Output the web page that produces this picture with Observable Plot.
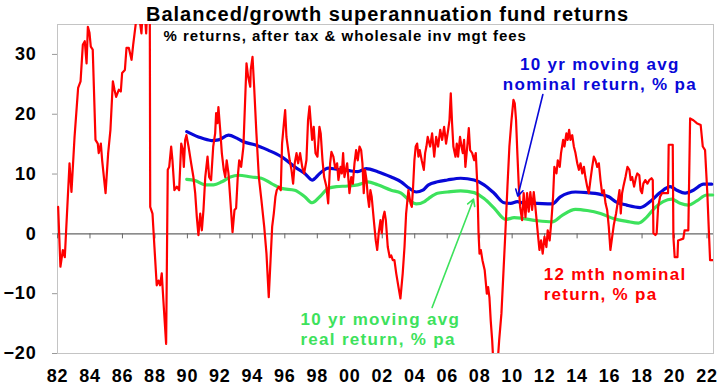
<!DOCTYPE html>
<html>
<head>
<meta charset="utf-8">
<script src="https://cdn.jsdelivr.net/npm/d3@7"></script>
<script src="https://cdn.jsdelivr.net/npm/@observablehq/plot@0.6"></script>
<style>
  html, body { margin: 0; padding: 0; background: #fff; }
  #chart { width: 720px; height: 391px; }
</style>
</head>
<body>
<div id="chart"></div>
<script>
// ---- Data (decimal year, % return) ----
const nominal12m = [
  [1982.04,4.5],[1982.18,-5.5],[1982.33,-2.7],[1982.45,-3.9],[1982.74,11.8],[1982.86,7.0],
  [1983.05,16.2],[1983.27,24.4],[1983.42,25.5],[1983.56,31.6],[1983.68,32.2],[1983.79,28.5],
  [1983.87,34.6],[1983.97,33.6],[1984.05,31.3],[1984.17,30.8],[1984.34,15.7],[1984.48,15.1],
  [1984.54,13.5],[1984.67,15.1],[1984.75,12.3],[1984.96,6.8],[1985.12,13.5],[1985.26,17.4],
  [1985.41,25.5],[1985.51,24.1],[1985.61,22.9],[1985.78,24.1],[1985.90,23.8],[1985.98,26.9],
  [1986.15,27.4],[1986.25,31.1],[1986.39,31.1],[1986.56,29.1],[1986.66,31.6],[1986.80,34.7],
  [1986.95,38],[1987.17,33.5],[1987.30,40],[1987.46,33.5],[1987.60,42],[1987.68,42],
  [1987.71,4.5],[1987.85,3.4],[1987.97,-2.2],[1988.11,-8.6],[1988.22,-7.8],[1988.32,-8.6],
  [1988.42,-6.6],[1988.52,-11.1],[1988.69,-18.4],[1988.79,10.7],[1988.88,11.2],[1989.00,14.6],
  [1989.08,12.3],[1989.20,7.3],[1989.35,7.9],[1989.49,7.3],[1989.62,15.1],[1989.72,14.0],
  [1989.78,11.2],[1989.86,15.7],[1989.94,16.5],[1990.07,14.6],[1990.23,11.8],[1990.37,9.5],
  [1990.48,6.8],[1990.58,2.8],[1990.68,-0.2],[1990.79,3.4],[1990.89,0.6],[1990.99,4.0],
  [1991.10,9.5],[1991.24,12.9],[1991.34,9.5],[1991.46,9.0],[1991.59,14.6],[1991.71,16.8],
  [1991.77,20.2],[1991.85,18.5],[1991.91,21.2],[1992.02,17.4],[1992.12,13.5],[1992.24,10.7],
  [1992.33,9.5],[1992.42,12.3],[1992.53,10.1],[1992.63,6.2],[1992.78,0.3],[1992.90,4.0],
  [1993.00,4.3],[1993.10,9.5],[1993.19,12.3],[1993.31,11.2],[1993.45,14.6],[1993.64,28.5],
  [1993.74,26.3],[1993.87,24.6],[1993.90,27.4],[1994.01,29.6],[1994.11,24.6],[1994.25,16.8],
  [1994.40,9.5],[1994.56,5.6],[1994.73,1.2],[1994.87,-3.3],[1995.01,-10.6],[1995.12,-4.4],
  [1995.22,1.2],[1995.32,3.4],[1995.42,6.2],[1995.50,7.3],[1995.63,7.9],[1995.75,7.3],
  [1995.83,15.1],[1995.96,19.0],[1996.02,20.7],[1996.10,16.2],[1996.21,14.0],[1996.30,12.3],
  [1996.41,10.7],[1996.51,8.4],[1996.61,11.8],[1996.72,13.5],[1996.82,11.8],[1996.94,13.5],
  [1997.07,11.2],[1997.19,10.1],[1997.33,12.3],[1997.43,19.0],[1997.52,21.3],[1997.60,18.5],
  [1997.68,15.7],[1997.78,17.9],[1997.89,13.5],[1998.01,12.9],[1998.13,17.9],[1998.21,16.8],
  [1998.32,12.3],[1998.42,9.5],[1998.56,7.9],[1998.67,5.1],[1998.79,11.8],[1998.87,13.7],
  [1998.99,12.9],[1999.10,11.0],[1999.22,11.8],[1999.30,9.0],[1999.43,11.2],[1999.51,10.1],
  [1999.59,13.5],[1999.67,9.5],[1999.84,11.8],[1999.98,6.8],[2000.09,9.5],[2000.19,8.4],
  [2000.29,11.8],[2000.39,14.0],[2000.49,12.3],[2000.60,14.6],[2000.70,14.0],[2000.78,11.8],
  [2000.86,6.8],[2000.94,10.7],[2001.03,9.0],[2001.11,6.2],[2001.19,4.5],[2001.27,7.3],
  [2001.35,6.2],[2001.48,2.3],[2001.60,-1.1],[2001.69,-2.7],[2001.78,0.1],[2001.89,2.3],
  [2001.97,0.1],[2002.06,2.8],[2002.14,3.7],[2002.22,2.3],[2002.34,-2.2],[2002.46,-3.9],
  [2002.55,-3.6],[2002.65,-4.4],[2002.75,-4.4],[2002.86,-6.6],[2003.00,-8.9],[2003.12,-10.8],
  [2003.26,-6.6],[2003.37,-2.2],[2003.47,3.4],[2003.61,7.3],[2003.74,5.1],[2003.82,4.5],
  [2003.90,7.9],[2003.98,12.3],[2004.06,14.6],[2004.15,15.1],[2004.23,12.9],[2004.31,14.0],
  [2004.43,12.3],[2004.56,10.7],[2004.64,13.5],[2004.72,14.6],[2004.80,16.2],[2004.95,14.6],
  [2005.07,16.8],[2005.20,12.9],[2005.32,16.2],[2005.44,14.6],[2005.57,17.4],[2005.69,15.7],
  [2005.81,17.9],[2005.93,15.1],[2006.06,17.4],[2006.14,19.0],[2006.22,23.5],[2006.30,18.5],
  [2006.38,14.6],[2006.51,12.9],[2006.59,15.1],[2006.67,12.9],[2006.79,16.2],[2006.88,14.6],
  [2006.96,13.5],[2007.04,15.7],[2007.12,11.2],[2007.25,15.1],[2007.33,17.7],[2007.41,14.0],
  [2007.54,13.5],[2007.66,12.3],[2007.76,13.5],[2007.86,7.9],[2007.93,0.1],[2007.99,-3.3],
  [2008.07,-2.7],[2008.17,-4.4],[2008.31,-6.1],[2008.44,-10.0],[2008.52,-8.9],[2008.60,-10.6],
  [2008.68,-14.5],[2008.77,-17.8],[2008.85,-22],[2009.00,-23],[2009.12,-21],[2009.20,-17.8],
  [2009.34,-13.3],[2009.46,-6.6],[2009.58,0.1],[2009.71,7.9],[2009.83,14.6],[2009.96,19.0],
  [2010.08,22.4],[2010.16,21.8],[2010.24,19.0],[2010.32,13.5],[2010.41,7.9],[2010.49,4.5],
  [2010.61,2.3],[2010.71,6.8],[2010.82,2.8],[2010.92,6.8],[2011.02,3.7],[2011.12,7.0],
  [2011.23,4.0],[2011.33,7.0],[2011.43,4.5],[2011.58,0.1],[2011.68,-2.7],[2011.78,-1.1],
  [2011.88,-3.3],[2011.99,-0.5],[2012.11,-2.2],[2012.19,0.6],[2012.31,-1.1],[2012.42,2.3],
  [2012.52,6.2],[2012.60,11.2],[2012.73,10.1],[2012.81,12.3],[2012.93,11.2],[2013.01,13.5],
  [2013.14,15.7],[2013.22,14.6],[2013.34,16.8],[2013.42,15.7],[2013.51,17.4],[2013.59,15.7],
  [2013.70,16.5],[2013.80,14.6],[2013.90,13.5],[2014.01,11.8],[2014.11,10.7],[2014.21,11.8],
  [2014.32,10.1],[2014.42,11.2],[2014.51,9.5],[2014.62,7.9],[2014.72,6.8],[2014.82,9.0],
  [2014.93,11.2],[2015.03,12.9],[2015.13,12.3],[2015.24,11.2],[2015.34,11.8],[2015.44,9.0],
  [2015.54,6.8],[2015.65,7.3],[2015.75,5.1],[2015.85,4.0],[2015.95,1.2],[2016.05,-2.7],
  [2016.16,-0.5],[2016.26,1.5],[2016.40,3.4],[2016.52,5.6],[2016.61,7.3],[2016.69,3.4],
  [2016.77,6.8],[2016.85,7.9],[2016.98,9.5],[2017.10,11.2],[2017.22,10.7],[2017.30,9.0],
  [2017.39,9.5],[2017.51,7.9],[2017.63,9.5],[2017.71,10.1],[2017.83,9.8],[2017.91,7.3],
  [2018.00,6.8],[2018.08,8.4],[2018.20,9.0],[2018.33,8.4],[2018.45,9.0],[2018.58,9.3],
  [2018.66,9.0],[2018.70,0.1],[2018.82,-0.2],[2018.90,0.1],[2018.99,4.5],[2019.11,6.2],
  [2019.23,6.8],[2019.60,6.8],[2019.64,14.9],[2019.89,14.9],[2019.93,-0.5],[2020.01,-3.9],
  [2020.18,-3.9],[2020.22,-1.1],[2020.54,-0.8],[2020.62,0.6],[2020.85,0.6],[2020.96,19.3],
  [2021.16,19.0],[2021.37,18.5],[2021.61,18.2],[2021.74,14.6],[2021.88,14.0],[2022.02,6.8],
  [2022.12,0.1],[2022.19,-4.4],[2022.39,-4.4]
];

const avgNominal10y = [
  [1989.96,17.1],[1990.68,16.2],[1991.5,15.6],[1991.91,15.7],[1992.53,16.5],[1993.04,16.0],
  [1993.45,15.4],[1994.15,14.9],[1994.97,14.0],[1995.79,12.9],[1996.61,11.2],[1997.23,10.1],
  [1997.68,9.0],[1998.15,10.1],[1998.67,11.0],[1999.18,10.8],[1999.88,10.6],[2000.49,10.4],
  [2001.01,10.9],[2001.72,10.4],[2002.55,9.5],[2003.16,8.7],[2003.67,7.6],[2004.09,7.0],
  [2004.5,7.3],[2004.85,8.2],[2005.4,8.7],[2006.01,9.0],[2006.83,9.3],[2007.66,9.0],
  [2008.27,8.2],[2008.89,6.8],[2009.51,5.2],[2009.91,5.1],[2010.32,5.4],[2010.63,5.2],
  [2011.54,5.1],[2012.46,5.0],[2012.97,6.2],[2013.9,7.0],[2014.62,6.9],[2015.44,6.6],
  [2015.95,6.2],[2016.36,5.4],[2017.06,4.8],[2017.88,4.4],[2018.5,5.4],[2019.11,6.9],
  [2019.73,7.9],[2020.14,7.3],[2020.65,6.8],[2021.16,7.3],[2021.78,8.3],[2022.29,8.3]
];

const avgReal10y = [
  [1989.96,9.1],[1990.48,8.9],[1991.1,8.2],[1991.61,8.2],[1992.12,8.7],[1992.64,9.5],
  [1993.15,9.8],[1993.95,9.5],[1994.56,9.3],[1995.18,8.4],[1995.79,7.6],[1996.61,7.3],
  [1997.23,6.2],[1997.68,5.2],[1998.15,6.2],[1998.67,7.6],[1999.18,7.9],[1999.88,8.0],
  [2000.49,8.2],[2001.11,8.7],[2001.72,8.2],[2002.55,7.3],[2003.16,6.8],[2003.67,5.6],
  [2004.09,5.0],[2004.6,5.4],[2004.85,5.9],[2005.4,6.8],[2006.01,7.0],[2006.83,7.2],
  [2007.66,6.9],[2008.27,5.9],[2008.89,4.3],[2009.6,2.4],[2010.12,2.7],[2010.6,2.6],
  [2011.54,2.2],[2012.46,2.0],[2013.08,3.1],[2013.9,4.1],[2014.62,3.9],[2015.44,3.4],
  [2016.3,2.5],[2017.06,2.1],[2017.78,1.8],[2018.29,2.8],[2018.8,4.4],[2019.3,5.4],
  [2019.83,5.8],[2020.34,5.1],[2020.85,4.8],[2021.37,5.5],[2021.98,6.5],[2022.35,6.5]
];

const xTicks  = [1982,1984,1986,1988,1990,1992,1994,1996,1998,2000,2002,2004,2006,2008,2010,2012,2014,2016,2018,2020,2022];
const xLabels = ["82","84","86","88","90","92","94","96","98","00","02","04","06","08","10","12","14","16","18","20","22"];
const yTicks  = [-20,-10,0,10,20,30];

const titleText    = ["Balanced/growth superannuation fund returns"];
const subtitleText = ["% returns, after tax & wholesale inv mgt fees"];
const blueLabel  = [{x: 2015.4,  y: 24.1,  text: "10 yr moving avg\nnominal return, % pa"}];
const redLabel   = [{x: 2011.94, y: -11.0, text: "12 mth nominal\nreturn, % pa"}];
const greenLabel = [{x: 1996.96, y: -18.6, text: "10 yr moving avg\nreal return, % pa"}];
const blueArrow  = [{x1: 2011.89, y1: 23.3, x2: 2010.35, y2: 6.3}];
const greenArrow = [{x1: 2005.07, y1: -12.3, x2: 2007.62, y2: 5.8}];

const RED = "#ff0000", BLUE = "#0808d8", GREEN = "#3de25c";
const FONT = "'Liberation Sans', Arial, sans-serif";

const svg = Plot.plot({
  width: 720,
  height: 391,
  marginLeft: 57,
  marginRight: 7,
  marginTop: 24,
  marginBottom: 38,
  style: {fontFamily: FONT, background: "#fff", color: "#000", overflow: "visible"},
  x: {domain: [1982, 2022.4]},
  y: {domain: [-20, 35]},
  marks: [
    Plot.frame({stroke: "#c4c4c4"}),
    Plot.axisY({ticks: yTicks, tickSize: 5, fill: "none", stroke: "#999", label: null}),
    Plot.axisY({ticks: yTicks, tickSize: 0, tickPadding: 21, fontSize: 18, fontWeight: "bold", label: null}),
    Plot.axisX({ticks: xTicks, tickSize: 0, tickPadding: 16, fontSize: 18, fontWeight: "bold", label: null,
                tickFormat: d => xLabels[xTicks.indexOf(d)]}),
    Plot.ruleY([0], {stroke: "#666", strokeWidth: 1.2}),
    Plot.ruleX(xTicks, {x: d => d, y1: 0, y2: 0, insetBottom: -5, stroke: "#666"}),
    Plot.line(avgNominal10y, {x: d => d[0], y: d => d[1], stroke: BLUE, strokeWidth: 3.2, curve: "monotone-x"}),
    Plot.line(avgReal10y, {x: d => d[0], y: d => d[1], stroke: GREEN, strokeWidth: 3.2, curve: "monotone-x"}),
    Plot.line(nominal12m, {x: d => d[0], y: d => d[1], stroke: RED, strokeWidth: 2.2, clip: true}),
    Plot.arrow(blueArrow, {x1: "x1", y1: "y1", x2: "x2", y2: "y2", stroke: BLUE, strokeWidth: 1.6, headLength: 7}),
    Plot.arrow(greenArrow, {x1: "x1", y1: "y1", x2: "x2", y2: "y2", stroke: GREEN, strokeWidth: 1.6, headLength: 7}),
    Plot.text(titleText, {frameAnchor: "top", lineAnchor: "bottom", dy: -4, dx: 2, fontSize: 20, fontWeight: "bold", fill: "#000"}),
    Plot.text(subtitleText, {frameAnchor: "top-left", textAnchor: "start", lineAnchor: "bottom", dx: 106, dy: 16.7, fontSize: 15, fontWeight: "bold", fill: "#000"}),
    Plot.text(blueLabel, {x: "x", y: "y", text: "text", textAnchor: "middle", lineAnchor: "bottom", lineHeight: 1.18, fontSize: 17, fontWeight: "bold", fill: BLUE}),
    Plot.text(redLabel, {x: "x", y: "y", text: "text", textAnchor: "start", lineAnchor: "bottom", lineHeight: 1.18, fontSize: 17, fontWeight: "bold", fill: RED}),
    Plot.text(greenLabel, {x: "x", y: "y", text: "text", textAnchor: "start", lineAnchor: "bottom", lineHeight: 1.18, fontSize: 17, fontWeight: "bold", fill: GREEN})
  ]
});

// letter-spacing tweaks to match the reference's wide bold lettering
const spacing = [1, 1, 1.3, 1.3, 1.3];
svg.querySelectorAll('g[aria-label="text"]').forEach((g, i) => {
  g.style.letterSpacing = (spacing[i] ?? 1) + "px";
});
svg.querySelectorAll('g[aria-label="x-axis tick label"], g[aria-label="y-axis tick label"]').forEach(g => {
  g.style.letterSpacing = "0.8px";
});

document.getElementById("chart").appendChild(svg);
</script>
</body>
</html>
